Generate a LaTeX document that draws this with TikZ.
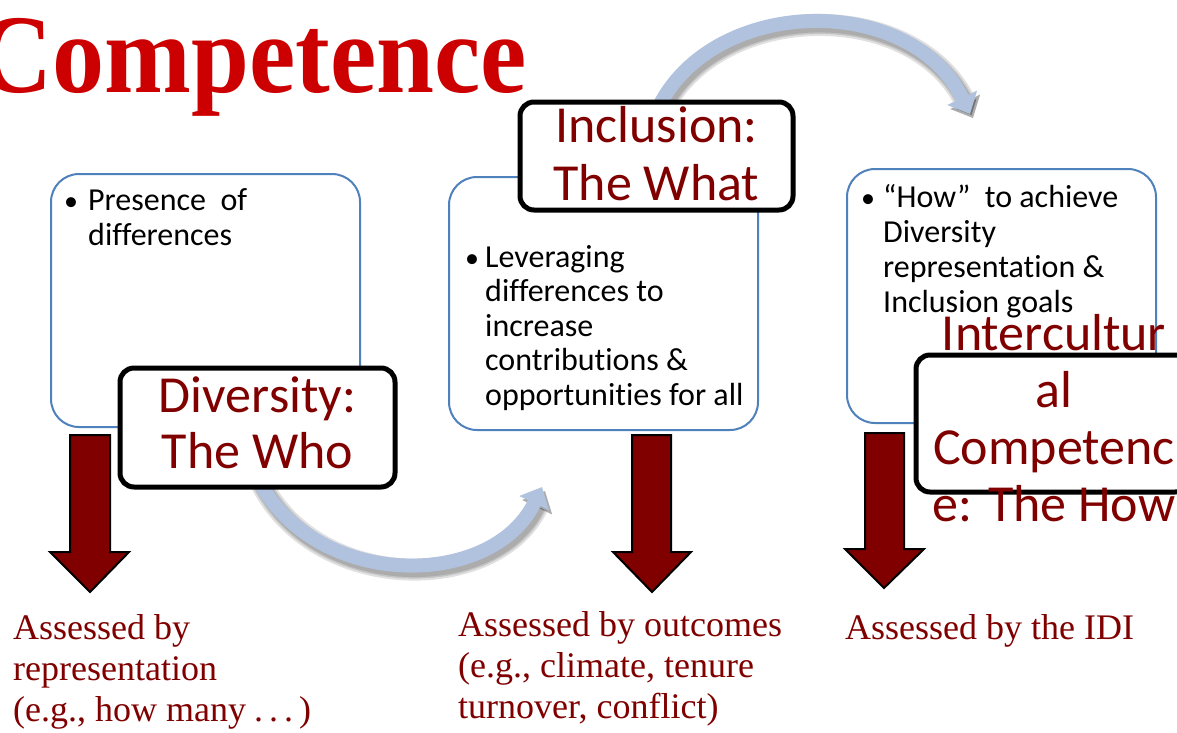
\documentclass[tikz,border=0pt]{standalone}
\usepackage{fontspec}
\setmainfont[Ligatures=CommonOff]{Liberation Serif}
\newfontfamily\calibri[Ligatures=CommonOff]{Carlito}
\usetikzlibrary{arrows.meta}
\definecolor{dred}{RGB}{128,0,0}
\definecolor{tred}{RGB}{204,0,0}
\definecolor{bborder}{RGB}{79,129,189}
\definecolor{arcblue}{RGB}{176,194,222}
\tikzset{
  bluebox/.style={draw=bborder, line width=2pt, rounded corners=28pt, inner sep=0pt},
  blackbox/.style={draw=black, fill=white, line width=5pt, rounded corners=14pt, inner sep=0pt},
  bigtxt/.style={font=\calibri\fontsize{52}{58}\selectfont, text=dred, inner sep=0pt, anchor=base},
  bultxt/.style={font=\calibri\fontsize{32}{35}\selectfont, text=black, inner sep=0pt, anchor=base west},
  bulmark/.style={font=\calibri\fontsize{28}{35}\selectfont, text=black, inner sep=0pt, anchor=base west},
  assess/.style={font=\fontsize{36}{41}\selectfont, text=dred, inner sep=0pt, anchor=base west},
  redarrow/.style={fill=dred, draw=black, line width=2pt, line join=miter},
  arcarrow/.style={draw=arcblue, line width=14pt, -{Triangle[width=32pt,length=18pt]}},
  arcshadow/.style={draw=black, line width=#1, opacity=0.12, -{Triangle[width=32pt,length=18pt]},
    transform canvas={shift={(3,4)}}},
}
\begin{document}
\begin{tikzpicture}[x=1pt,y=-1pt]
\path[use as bounding box, clip] (0,0) rectangle (1177,732);
\fill[white] (0,0) rectangle (1177,732);

% title
\node[font=\bfseries\fontsize{112}{112}\selectfont, text=tred, inner sep=0pt, anchor=base east, xscale=0.93] (title) at (527,92) {Competence};

% blue boxes
\node[bluebox, minimum width=309pt, minimum height=253pt] (b1) at (205.5,300.5) {};
\node[bluebox, minimum width=309pt, minimum height=253pt] (b2) at (603.5,303.5) {};
\node[bluebox, minimum width=309pt, minimum height=254pt] (b3) at (1001.5,296) {};

% curved arrows
\coordinate (a1s) at (655,115);
\coordinate (a1e) at (970,114);
\coordinate (a2s) at (250,460);
\coordinate (a2e) at (542,487);
\foreach \w in {22pt,18pt,15pt}{
  \draw[arcshadow=\w] (a1s) .. controls (705,-5) and (910,-10) .. (a1e);
  \draw[arcshadow=\w] (a2s) .. controls (295,590) and (490,595) .. (a2e);
}
\draw[arcarrow] (a1s) .. controls (705,-5) and (910,-10) .. (a1e);
\draw[arcarrow] (a2s) .. controls (295,590) and (490,595) .. (a2e);

% red down arrows
\draw[redarrow] (70,435) -- (110,435) -- (110,552) -- (129,552) -- (90,592) -- (50,552) -- (70,552) -- cycle;
\draw[redarrow] (632,435) -- (671,435) -- (671,552) -- (691,552) -- (652,592) -- (613,552) -- (632,552) -- cycle;
\draw[redarrow] (865,433) -- (904,433) -- (904,549) -- (924,549) -- (884,588) -- (845,549) -- (865,549) -- cycle;

% black boxes
\node[blackbox, minimum width=275pt, minimum height=119pt] (div) at (257.5,427.5) {};
\node[blackbox, minimum width=273pt, minimum height=108pt] (inc) at (656.5,156) {};
\node[blackbox, minimum width=273pt, minimum height=137pt] (int) at (1052.5,423.5) {};

% black box texts
\node[bigtxt] (div1) at (257.5,412) {Diversity:};
\node[bigtxt] (div2) at (257.5,468) {The Who};
\node[bigtxt] (inc1) at (656.5,142) {Inclusion:};
\node[bigtxt] (inc2) at (656.5,200) {The What};
\node[bigtxt] (int1) at (1054,350) {Intercultur};
\node[bigtxt] (int2) at (1054,407) {al};
\node[bigtxt] (int3) at (1054,464) {Competenc};
\node[bigtxt] (int4) at (1054,521) {e: The How};

% bullet texts
\node[bulmark] (p0) at (64,210) {•};
\node[bultxt] (p1) at (88,210) {Presence\ \ of};
\node[bultxt] (p2) at (88,245) {differences};

\node[bulmark] (l0) at (465,267) {•};
\node[bultxt] (l1) at (485,267) {Leveraging};
\node[bultxt] (l2) at (485,301.5) {differences to};
\node[bultxt] (l3) at (485,336) {increase};
\node[bultxt] (l4) at (485,370.5) {contributions \&};
\node[bultxt] (l5) at (485,405) {opportunities for all};

\node[bulmark] (h0) at (861,207) {•};
\node[bultxt] (h1) at (883,207) {“How”\ \ to achieve};
\node[bultxt] (h2) at (883,242) {Diversity};
\node[bultxt] (h3) at (883,277) {representation \&};
\node[bultxt] (h4) at (883,312) {Inclusion goals};

% assessed texts
\node[assess] (s1) at (13,639) {Assessed by};
\node[assess] (s2) at (13,680) {representation};
\node[assess] (s3) at (13,721) {(e.g., how many\hspace{8pt}.\hspace{6pt}.\hspace{6pt}.\hspace{6pt})};
\node[assess] (o1) at (458,636) {Assessed by outcomes};
\node[assess] (o2) at (458,677) {(e.g., climate, tenure};
\node[assess] (o3) at (458,718) {turnover, conflict)};
\node[assess] (i1) at (845,639) {Assessed by the IDI};
\end{tikzpicture}
\end{document}
